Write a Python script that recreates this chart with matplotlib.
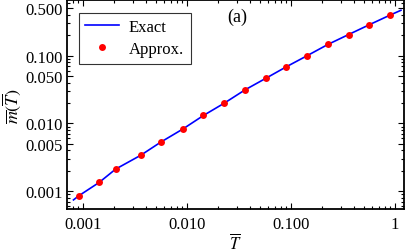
import matplotlib
matplotlib.use("Agg")
import matplotlib.pyplot as plt
from matplotlib.ticker import FixedLocator, LogLocator, NullFormatter

plt.rcParams['font.family'] = ['Liberation Serif', 'DejaVu Serif']
plt.rcParams['mathtext.fontset'] = 'stix'

# Approximate points
approx_T = [0.00091, 0.00143, 0.00206, 0.00359, 0.00562, 0.00910,
            0.0144, 0.0228, 0.0361, 0.0571, 0.0905, 0.1426,
            0.2264, 0.3584, 0.5677, 0.8900]
approx_m = [0.00085, 0.00134, 0.00211, 0.00338, 0.00531, 0.00824,
            0.0131, 0.0199, 0.0313, 0.0463, 0.0689, 0.100,
            0.147, 0.206, 0.288, 0.397]

# Exact curve
exact_T = [0.00081, 0.00091, 0.00143, 0.00206, 0.00359, 0.00562, 0.00910,
           0.0144, 0.0228, 0.0361, 0.0571, 0.0905, 0.1426,
           0.2264, 0.3584, 0.5677, 0.8900, 1.14]
exact_m = [0.00074, 0.00085, 0.00134, 0.00211, 0.00338, 0.00531, 0.00824,
           0.0131, 0.0199, 0.0313, 0.0463, 0.0689, 0.100,
           0.147, 0.206, 0.288, 0.397, 0.47]

x_ticks = [0.001, 0.01, 0.1, 1]
x_labels = ['0.001', '0.010', '0.100', '1']
y_ticks = [0.001, 0.005, 0.01, 0.05, 0.1, 0.5]
y_labels = ['0.001', '0.005', '0.010', '0.050', '0.100', '0.500']

fig = plt.figure(figsize=(4.07, 2.53), dpi=100)
ax = fig.add_axes([67/407, 1-210/253, (404-67)/407, (210-1)/253])

ax.plot(exact_T, exact_m, color='#0000ff', lw=1.2, label='Exact', zorder=2)
ax.plot(approx_T, approx_m, 'o', color='#ff0000', ms=5, mec='none',
        label='Approx.', zorder=3)

ax.set_xscale('log')
ax.set_yscale('log')
ax.set_xlim(0.000702, 1.22)
ax.set_ylim(0.000543, 0.667)

ax.xaxis.set_major_locator(FixedLocator(x_ticks))
ax.set_xticklabels(x_labels)
ax.yaxis.set_major_locator(FixedLocator(y_ticks))
ax.set_yticklabels(y_labels)
ax.xaxis.set_minor_locator(LogLocator(base=10, subs=range(2, 10), numticks=20))
ax.yaxis.set_minor_locator(LogLocator(base=10, subs=range(1, 10), numticks=20))
ax.xaxis.set_minor_formatter(NullFormatter())
ax.yaxis.set_minor_formatter(NullFormatter())

ax.tick_params(which='both', direction='in', top=True, right=True,
               labelsize=12, width=0.8, color='black')
ax.tick_params(which='major', length=4)
ax.tick_params(which='minor', length=2)
ax.tick_params(axis='x', pad=5)
ax.tick_params(axis='y', pad=3)
for s in ax.spines.values():
    s.set_linewidth(1.3)

ax.set_xlabel(r'$\overline{T}$', fontsize=12, labelpad=0)
ax.set_ylabel(r'$\overline{m}(\overline{T})$', fontsize=13, labelpad=2)

leg = ax.legend(loc='upper left', bbox_to_anchor=(0.035, 0.94), fontsize=12,
                frameon=True, fancybox=False, edgecolor='black',
                handlelength=2.0, handletextpad=0.6, borderpad=0.4,
                labelspacing=0.35, borderaxespad=0)
leg.get_frame().set_linewidth(0.8)

ax.text(0.505, 0.92, '(a)', transform=ax.transAxes, fontsize=13,
        ha='center', va='center')

fig.savefig('out.png', dpi=100)
